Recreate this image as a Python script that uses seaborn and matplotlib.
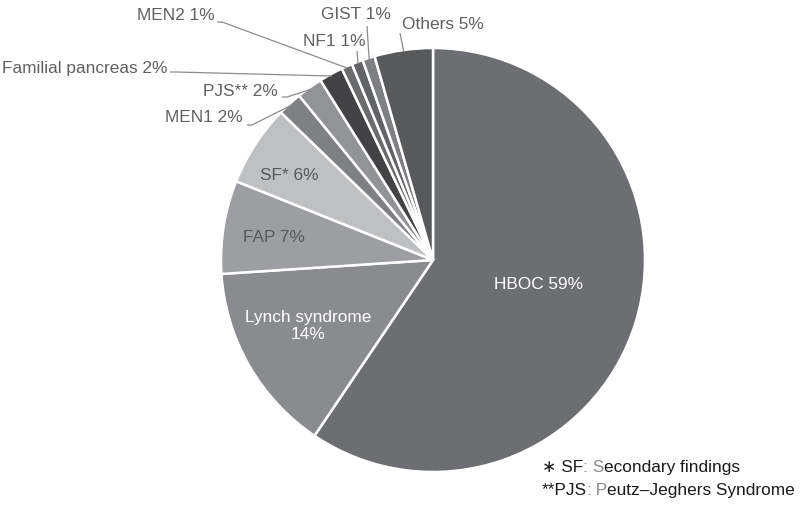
import numpy as np
import seaborn as sns
import matplotlib
matplotlib.use('Agg')
import matplotlib.pyplot as plt

# data (clockwise from 12 o'clock)
categories = ['HBOC', 'Lynch syndrome', 'FAP', 'SF*', 'MEN1', 'PJS**',
              'Familial pancreas', 'MEN2', 'NF1', 'GIST', 'Others']
shares = [59.4, 14.5, 7.1, 6.2, 1.86, 1.97, 1.83, 0.83, 0.86, 0.94, 4.44]
labels = ['HBOC 59%', 'Lynch syndrome\n14%', 'FAP 7%', 'SF* 6%', 'MEN1 2%', 'PJS** 2%',
          'Familial pancreas 2%', 'MEN2 1%', 'NF1 1%', 'GIST 1%', 'Others 5%']
colors = ['#6d6e71', '#8a8b8e', '#9d9ea1', '#bfc0c2', '#7f8083', '#929396',
          '#434345', '#6a6b6d', '#626366', '#7e7f82', '#58595b']

sns.set_style('white')
plt.rcParams['font.family'] = ['Liberation Sans', 'DejaVu Sans']

W, H = 800, 511
fig = plt.figure(figsize=(W / 100, H / 100), dpi=100)
ax = fig.add_axes([0, 0, 1, 1])


def img(x, y):
    # picture coords (y down) -> data coords (y up)
    return x, H - y


cx, cy = img(433, 260)
R = 212
wedges, _ = ax.pie(shares, colors=colors, startangle=90, counterclock=False,
                   center=(cx, cy), radius=R,
                   wedgeprops=dict(edgecolor='white', linewidth=1.8))
ax.set_xlim(0, W)
ax.set_ylim(0, H)
ax.set_aspect('equal')
ax.axis('off')


def rim(i, frac=1.0):
    w = wedges[i]
    a = np.deg2rad((w.theta1 + w.theta2) / 2)
    return cx + R * frac * np.cos(a), cy + R * frac * np.sin(a)


txt_gray = '#5f6062'
line_gray = '#8c8c8c'
fs = 12.4

# labels inside the pie
inside = {0: ((538, 284), 'white'), 1: ((308, 326), 'white'),
          2: ((274, 237), '#58595b'), 3: ((289, 175), '#58595b')}
for i, ((x, y), c) in inside.items():
    ax.text(*img(x, y), labels[i], color=c, fontsize=fs, ha='center', va='center',
            linespacing=1.2)

# labels outside with leader lines: (text centre, leader path start points)
outside = {
    4: ((204, 117), [(247, 125), (252, 125)]),
    5: ((240, 91), [(282, 97), (287, 97)]),
    6: ((85, 68), [(170, 72), (176, 72)]),
    7: ((176, 15), [(217, 22), (222, 22)]),
    8: ((334, 41), [(357, 51)]),
    9: ((356, 14), [(367, 26)]),
    10: ((443, 24), [(400, 33)]),
}
for i, ((x, y), path) in outside.items():
    ax.text(*img(x, y), labels[i], color=txt_gray, fontsize=fs, ha='center', va='center')
    pts = [img(px, py) for px, py in path] + [rim(i, 0.99)]
    xs, ys = zip(*pts)
    ax.plot(xs, ys, color=line_gray, lw=0.9, solid_capstyle='butt')

# footnote with grey ':' and initial letters (text, colour, pull-back in px)
notes = [
    (467, [('\u2217 SF', '#1a1a1a', 0), (':', '#8c8c8c', 0.5), (' S', '#8c8c8c', 0),
           ('econdary findings', '#1a1a1a', 0)]),
    (490, [('**PJS', '#1a1a1a', 0), (':', '#8c8c8c', 0.5), (' P', '#8c8c8c', 0),
           ('eutz\u2013Jeghers Syndrome', '#1a1a1a', 0)]),
]
fig.canvas.draw()
renderer = fig.canvas.get_renderer()
for y, parts in notes:
    x = 542
    for s, c, pull in parts:
        t = ax.text(x - pull, img(0, y)[1], s, color=c, fontsize=fs, ha='left', va='center')
        bb = t.get_window_extent(renderer)
        x = bb.x1

fig.savefig('out.png', dpi=100)
